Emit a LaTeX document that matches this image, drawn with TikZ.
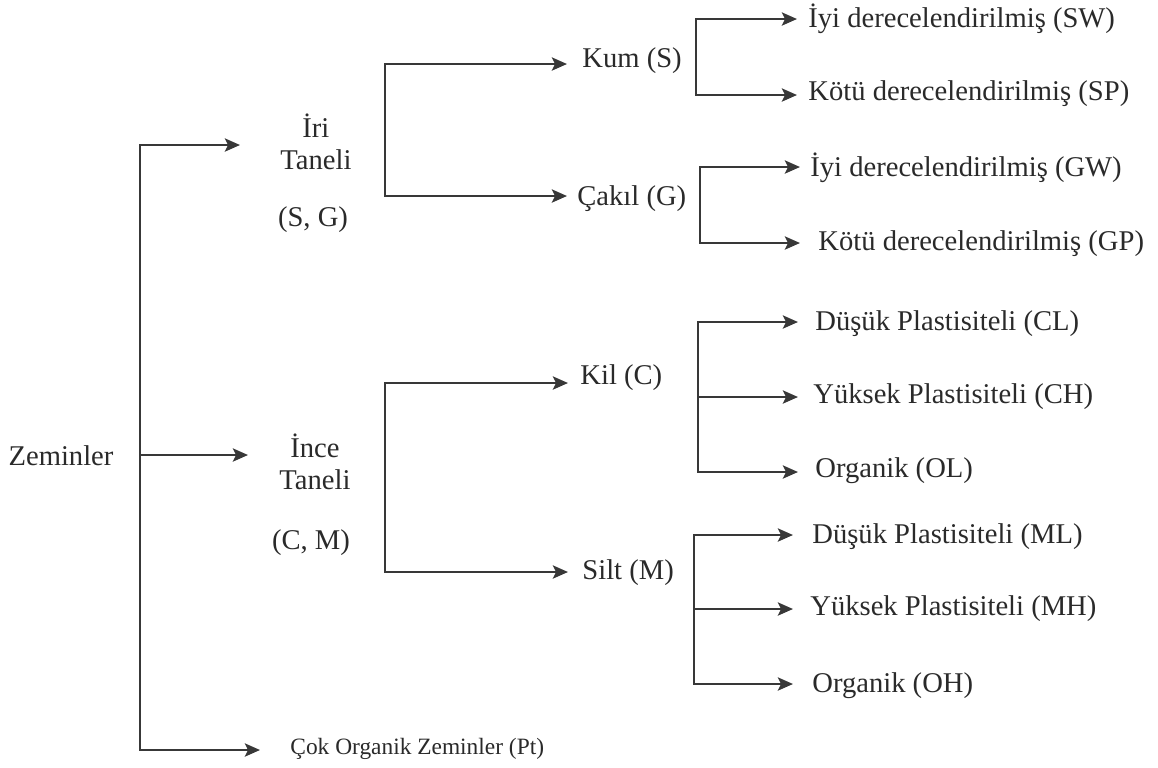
\documentclass[tikz,border=0pt]{standalone}
\usepackage{fontspec}
\setmainfont{Liberation Serif}
\usetikzlibrary{arrows.meta}
\definecolor{txt}{HTML}{2A2A2A}
\definecolor{ln}{HTML}{383838}
\begin{document}
\begin{tikzpicture}[x=0.5pt,y=-0.5pt,
  lbl/.style={inner sep=0pt,text=txt,font=\fontsize{14.3}{16}\selectfont,anchor=west},
  lblc/.style={inner sep=0pt,text=txt,font=\fontsize{14.3}{16}\selectfont,align=center},
  small/.style={inner sep=0pt,text=txt,font=\fontsize{11.7}{14}\selectfont,anchor=west},
  conn/.style={draw=ln,line width=1.4pt,line join=miter},
  arr/.style={conn,-{Stealth[length=7.5pt,width=6.5pt,inset=1.5pt]}}]
\useasboundingbox (0,0) rectangle (1158,767);
\fill[white] (0,0) rectangle (1158,767);

% level 0
\node[lblc] (zem) at (61,456) {Zeminler};
\coordinate (z1) at (140,145);
\coordinate (z2) at (140,455);
\coordinate (z3) at (140,750);

% level 1
\node[lbl,align=center] (iri) at (280,142) {İri\\Taneli};
\node[lblc] (sg) at (313,220) {(S, G)};
\node[lbl,align=center] (ince) at (279,462) {İnce\\Taneli};
\node[lblc] (cm) at (311,543) {(C, M)};
\node[small] (cok) at (290,749) {Çok Organik Zeminler (Pt)};

% level 2
\coordinate (kb1) at (385,64);
\coordinate (kb2) at (385,196);
\node[lbl] (kum) at (582,61) {Kum (S)};
\node[lbl] (cakil) at (577,199) {Çakıl (G)};
\coordinate (ib1) at (385,383);
\coordinate (ib2) at (385,572);
\node[lbl] (kil) at (580,378) {Kil (C)};
\node[lbl] (silt) at (582,573) {Silt (M)};

% level 3: Kum
\coordinate (s1) at (696,19);
\coordinate (s2) at (696,95);
\node[lbl] (sw) at (808,19) {İyi derecelendirilmiş (SW)};
\node[lbl] (sp) at (808,94) {Kötü derecelendirilmiş (SP)};
% Çakıl
\coordinate (g1) at (700,167);
\coordinate (g2) at (700,243);
\node[lbl] (gw) at (810,168) {İyi derecelendirilmiş (GW)};
\node[lbl] (gp) at (818,244) {Kötü derecelendirilmiş (GP)};
% Kil
\coordinate (c1) at (698,322);
\coordinate (c2) at (698,397);
\coordinate (c3) at (698,472);
\node[lbl] (cl) at (815,324) {Düşük Plastisiteli (CL)};
\node[lbl] (ch) at (813,397) {Yüksek Plastisiteli (CH)};
\node[lbl] (ol) at (815,471) {Organik (OL)};
% Silt
\coordinate (m1) at (694,535);
\coordinate (m2) at (694,609);
\coordinate (m3) at (694,684);
\node[lbl] (ml) at (812,537) {Düşük Plastisiteli (ML)};
\node[lbl] (mh) at (810,609) {Yüksek Plastisiteli (MH)};
\node[lbl] (oh) at (812,686) {Organik (OH)};

% connectors level 0 -> 1
\draw[arr,shorten >=20pt] (z3) -- (z1) -- (z1 -| iri.west);
\draw[arr,shorten >=15.5pt] (z2) -- (z2 -| ince.west);
\draw[arr,shorten >=15pt] (z1) -- (z3) -- (z3 -| cok.west);

% level 1 -> 2
\draw[arr,shorten >=7.5pt] (kb2) -- (kb1) -- (kb1 -| kum.west);
\draw[arr,shorten >=5pt] (kb1) -- (kb2) -- (kb2 -| cakil.west);
\draw[arr,shorten >=6pt] (ib2) -- (ib1) -- (ib1 -| kil.west);
\draw[arr,shorten >=7pt] (ib1) -- (ib2) -- (ib2 -| silt.west);

% level 2 -> 3
\draw[arr,shorten >=5.5pt] (s2) -- (s1) -- (s1 -| sw.west);
\draw[arr,shorten >=5.5pt] (s1) -- (s2) -- (s2 -| sp.west);
\draw[arr,shorten >=5pt] (g2) -- (g1) -- (g1 -| gw.west);
\draw[arr,shorten >=9pt] (g1) -- (g2) -- (g2 -| gp.west);
\draw[arr,shorten >=8.5pt] (c3) -- (c1) -- (c1 -| cl.west);
\draw[arr,shorten >=7.5pt] (c2) -- (c2 -| ch.west);
\draw[arr,shorten >=8.5pt] (c1) -- (c3) -- (c3 -| ol.west);
\draw[arr,shorten >=9.5pt] (m3) -- (m1) -- (m1 -| ml.west);
\draw[arr,shorten >=8.5pt] (m2) -- (m2 -| mh.west);
\draw[arr,shorten >=9.5pt] (m1) -- (m3) -- (m3 -| oh.west);
\end{tikzpicture}
\end{document}
